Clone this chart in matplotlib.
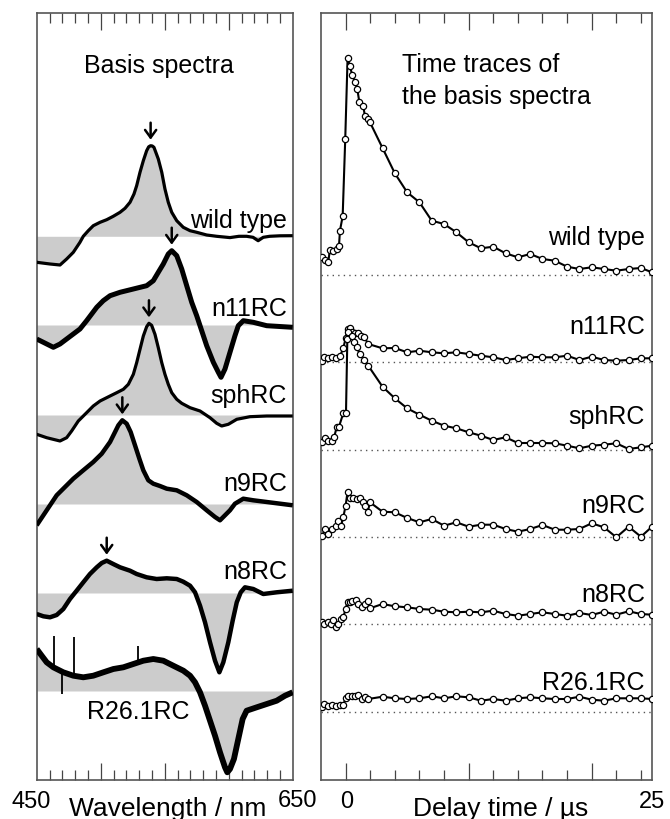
import numpy as np
import matplotlib
matplotlib.use('Agg')
import matplotlib.pyplot as plt

plt.rcParams['font.family'] = ['Liberation Sans', 'DejaVu Sans']

names = ['wild type', 'n11RC', 'sphRC', 'n9RC', 'n8RC', 'R26.1RC']

# --- basis spectra: wavelength (nm) and amplitude (arb. units, 0 = zero line)
wl_wt = [450, 460.4, 468.2, 473.4, 478.6, 483.8, 486.4, 490.3, 494.2, 499.5, 504.7, 509.8,
         515.1, 519, 522.9, 526, 528.1, 530.7, 533.3, 535.9, 537.5, 539, 540.3, 541.6, 545,
         547.7, 550.2, 552.8, 555.5, 559.4, 564.5, 569.8, 575, 582.8, 590.6, 601, 608, 614,
         619, 623, 627, 632, 640, 650]
sp_wt = [-26, -27.7, -28.7, -22.7, -16, -6, 0, 5.6, 10.6, 14, 16.6, 20,
         24, 28, 34, 42.3, 50.6, 64, 75.6, 85.6, 89.5, 90.6, 90.3, 89, 77.3,
         64, 47.3, 34, 24, 15.6, 9, 5.6, 4, 1.3, 0, -1.3, 0, 0,
         -1, -4.4, -1, 0, 0.5, 0.6]

wl_n11 = [450, 455.2, 463, 468.2, 473.4, 478.6, 483.8, 489, 496.9, 502, 507.3, 515.1,
          525.5, 535.9, 541.1, 545, 548.9, 552.8, 555.5, 559.4, 563.3, 567.2, 571.1, 575,
          578.9, 582.8, 588, 591.9, 594, 597.1, 601, 604.9, 607.5, 611.4, 619.2, 629.7,
          650]
sp_n11 = [-14, -17.3, -22.3, -19, -14, -9, -4, 4.3, 17.7, 24.3, 29.3, 32.7,
          36, 39.3, 44.3, 52.7, 61, 71, 74.3, 69.3, 56, 39.3, 22.7, 9.3,
          -5.7, -20.7, -37.3, -47.3, -52.3, -44, -27.3, -10.7, -0.7, 4.3, 2.7, -0.7,
          -2.3]

wl_sph = [450, 457.8, 468.2, 473.4, 477.3, 482.5, 489, 494.2, 499.5, 507.3, 512.5, 517.7,
          521.6, 525.5, 528.1, 530.7, 533.3, 535.9, 537.7, 539.8, 542.4, 545, 547.7, 550.2,
          552.8, 555.5, 559.4, 563.3, 569.8, 577.6, 585.4, 590.6, 594.5, 599.7, 606.3,
          616.6, 629.7, 650]
sp_sph = [-19.3, -22.7, -26, -22.7, -16, -6, 2.3, 9, 14, 19, 22.3, 25.7,
          30.7, 40.7, 52.3, 65.7, 79, 88.3, 91.7, 89.7, 80.7, 67.3, 52.3, 40.7,
          30.7, 22.3, 15.7, 11.7, 7.3, 4, -2.7, -8.3, -11, -9.3, -4.3,
          -1.7, -1, -1]

wl_n9 = [450, 452.6, 455.2, 460.4, 465.6, 472.1, 478.6, 486.4, 494.2, 500.8, 507.3, 511.2,
         513.8, 516.9, 520.3, 523.4, 526.8, 530.2, 533.3, 537.2, 541.1, 546.3, 551.6, 559.4,
         567.2, 575, 582.8, 589.3, 593.2, 597.1, 601, 604.9, 611.4, 619.2, 629.7, 650]
sp_n9 = [-21.3, -16.3, -11.3, -1.3, 8.7, 17, 25.3, 33.7, 42, 50.3, 62, 72,
         78.7, 83.7, 80.3, 72, 58.7, 45.3, 33.7, 23.7, 20.3, 18, 15.3, 13.7,
         8.7, 2, -6.3, -13, -16.3, -11.3, -6.3, 0.3, 5.3, 3.7, 2, -1.3]

wl_n8 = [450, 455.2, 460.4, 465.6, 470.8, 476, 481.2, 486.4, 491.6, 496.9, 500.8, 504.7,
         509.8, 515.1, 522.9, 528.1, 535.9, 543.7, 551.6, 559.4, 564.5, 569.8, 573.7, 577.6,
         581.5, 585.4, 589.3, 592.7, 595.8, 599.7, 603.1, 606.3, 609.4, 612.7, 619.2, 627,
         637.5, 650]
sp_n8 = [-21, -23.3, -24.3, -22, -16, -6, 2.3, 10.7, 19, 25.7, 30, 32.3,
         29, 25.7, 22.3, 19, 15.7, 14, 14.7, 14, 11.3, 7.3, 0.7, -12.7,
         -29.3, -49.3, -67.7, -79.3, -69.3, -49.3, -27.7, -9.3, 0.7, 5.7, 4, -1,
         0.7, 2.3]

wl_r26 = [450, 453.9, 457.8, 463, 470.8, 478.6, 486.4, 494.2, 502.1, 509.9, 517.7, 525.5,
          533.3, 541.1, 548.9, 556.7, 564.6, 569.8, 573.7, 577.6, 581.5, 585.4, 589.3, 593.2,
          597.1, 598.9, 601, 604.1, 607.5, 610.9, 614, 621.9, 629.7, 637.5, 644, 650]
sp_r26 = [42, 35.3, 28.7, 23.7, 18.7, 15.3, 13.7, 15.3, 18.7, 22, 23.7, 27,
          30.3, 32, 30.3, 25.3, 20.3, 15.3, 8.7, -1.3, -14.7, -29.7, -44.7, -61.3,
          -76.3, -81.3, -78, -68, -48, -28, -19.7, -16.3, -13, -9.7, -4.7, -1.3]
# single-point noise spikes on the R26.1RC spectrum
spike_wl = [463.5, 469.5, 479.4, 529.4]
spike_tip = [55, -3, 53.7, 45]

arrow_wl = [539, 555.5, 537.7, 516.9, 504.7]

# --- time traces: delay time (us) and amplitude (arb. units)
t_late = [3, 4, 5, 6, 7, 8, 9, 10, 11, 12, 13, 14, 15, 16, 17, 18, 19, 20, 21, 22, 23, 24, 24.9]

t_wt = [-1.95, -1.68, -1.41, -1.28, -1.0, -0.73, -0.54, -0.46, -0.24, -0.03, 0.16, 0.35,
        0.54, 0.76, 0.95, 1.11, 1.44, 1.57, 1.79, 1.98]
tr_wt = [17.7, 15.3, 12.7, 25.3, 24.3, 26, 28.7, 44.3, 58.7, 136, 217, 208.7,
         200, 193.3, 186, 173.3, 168.7, 158.7, 156, 152.7,
         127, 101.7, 82.7, 72.7, 54.3, 51, 42.7, 32.7, 26.7, 28.3, 21.7, 17.7,
         21, 16, 14.3, 8.3, 6, 7.7, 6, 4.3, 6, 7, 2.7]

t_n11 = [-1.95, -1.73, -1.41, -1.14, -0.81, -0.46, -0.19, 0.0, 0.16, 0.35, 0.54, 0.76,
         0.98, 1.25, 1.52, 1.84]
tr_n11 = [1, 4.4, 3.4, 4.4, 3.4, 5.4, 13.4, 23.4, 32.7, 33.4, 29.4, 28.4,
          28.4, 26, 24.4, 17.7,
          13.4, 13.7, 9.4, 11, 9.4, 8.4, 9.4, 7.7, 6, 4.4, 1.7, 3.4,
          5, 4.4, 4.4, 6, 1.7, 5, 1.7, 1, 1.7, 3.4, 3.4]

t_sph = [-1.9, -1.68, -1.41, -1.14, -0.92, -0.73, -0.54, -0.19, 0.03, 0.14, 0.22, 0.49,
         0.7, 0.89, 1.17, 1.52, 1.84]
tr_sph = [7.4, 11.4, 9, 9, 13, 22.4, 23, 36.4, 36.4, 110.7, 117.4, 114,
          107.4, 102.4, 95.7, 89.7, 84,
          63, 51.4, 41.4, 35, 29, 24, 21.4, 17.4, 14, 9.7, 12.4, 6.7,
          6.7, 6.7, 6.4, 4, 1.4, 4, 5, 6.4, 0.7, 2.4, 4]

t_n9 = [-1.9, -1.68, -1.41, -1.14, -0.81, -0.6, -0.38, -0.19, 0.0, 0.16, 0.35, 0.62,
        0.89, 1.17, 1.38, 1.57, 1.79, 1.98]
tr_n9 = [1.6, 8.3, 3.3, 8.3, 11.6, 16.6, 11, 20, 31.6, 45.6, 39.3, 39.3,
         38.3, 39, 35, 31, 25, 35,
         25.6, 25, 19.3, 15, 18.3, 11.6, 15, 10.6, 12.6, 12.6, 8.3, 5.6,
         8.3, 12.3, 7.6, 7.6, 8.3, 14, 10, 0, 10.6, 0.6, 10.6]

t_n8 = [-1.95, -1.73, -1.46, -1.19, -1.0, -0.81, -0.6, -0.38, -0.19, 0.0, 0.16, 0.35,
        0.54, 0.81, 1.03, 1.3, 1.57, 1.79, 1.98]
tr_n8 = [1.7, 0, 2.3, 0, 4, -3.3, 0, 5, 6.7, 15, 22.3, 22,
         23.3, 24.3, 20, 16.7, 20, 22.7, 15.7,
         20, 17.7, 16.7, 15, 14.3, 12.3, 11.7, 12.3, 11.7, 13.3, 10, 8.3,
         10, 11.7, 10, 8.3, 11, 9, 12.3, 9.3, 12.7, 10, 9.3]

t_r26 = [-1.95, -1.73, -1.46, -1.14, -0.81, -0.46, -0.19, 0.0, 0.22, 0.49, 0.76, 1.03,
         1.3, 1.57, 1.84]
tr_r26 = [5, 7.7, 6, 6.7, 6, 6.7, 6.7, 13.4, 16, 15.4, 16, 16.7,
          12.7, 14.4, 12.7,
          15, 13.4, 12.7, 13.4, 15.4, 13.4, 15.4, 14.4, 11, 12.7, 11, 13.4,
          14.4, 13.4, 12.7, 12.7, 15, 12, 11, 13.4, 13.4, 13.4, 12.7]

spectra = [(wl_wt, sp_wt), (wl_n11, sp_n11), (wl_sph, sp_sph),
           (wl_n9, sp_n9), (wl_n8, sp_n8), (wl_r26, sp_r26)]
traces = [(t_wt, tr_wt), (t_n11, tr_n11), (t_sph, tr_sph),
          (t_n9, tr_n9), (t_n8, tr_n8), (t_r26, tr_r26)]

# layout: vertical stacking offsets and label positions
spec_off = [543.7, 455, 365, 276, 187, 89]
trace_off = [505, 418.3, 330.3, 242.7, 156, 68.3]
spec_lw = [2.3, 3.6, 2.3, 3.2, 3.2, 4.2]
spec_lab_y = [553, 465, 377.7, 290.3, 201.7, 62]
trace_lab_y = [536, 446.7, 357, 268.3, 179.3, 91]

W, H = 670, 820
fig = plt.figure(figsize=(W / 100, H / 100), dpi=100)
ax1 = fig.add_axes([36.7 / W, 1 - 781 / H, 256 / W, 767 / H])
ax2 = fig.add_axes([321 / W, 1 - 781 / H, 331 / W, 767 / H])

fs_lab = 18

for i, ((wl, sp), off) in enumerate(zip(spectra, spec_off)):
    wl = np.asarray(wl)
    y = np.asarray(sp) + off
    ax1.fill_between(wl, off, y, color='#cccccc', lw=0, zorder=1)
    ax1.plot(wl, y, color='k', lw=spec_lw[i], solid_joinstyle='round',
             solid_capstyle='butt', zorder=3)
    if i < len(arrow_wl):
        lam = arrow_wl[i]
        ypk = np.interp(lam, wl, y)
        ax1.annotate('', xy=(lam, ypk + 6), xytext=(lam, ypk + 23),
                     arrowprops=dict(arrowstyle='->,head_length=0.55,head_width=0.4',
                                     lw=1.8, color='k', shrinkA=0, shrinkB=0))
    if names[i] == 'R26.1RC':
        base = np.interp(spike_wl, wl, y)
        ax1.vlines(spike_wl, base, np.asarray(spike_tip) + off, color='k', lw=1.3, zorder=3)
        ax1.text(489.3, spec_lab_y[i], names[i], ha='left', va='baseline', fontsize=fs_lab)
    else:
        ax1.text(645.5, spec_lab_y[i], names[i], ha='right', va='baseline', fontsize=fs_lab)

ax1.text(545.5, 708, 'Basis spectra', ha='center', va='baseline', fontsize=fs_lab)

for i, ((t, tr), off) in enumerate(zip(traces, trace_off)):
    tt = list(t) + t_late
    y = np.asarray(tr) + off
    ax2.plot([-2.0, 24.9], [off, off], color='#555555', lw=1.0, ls=(0, (1, 3)), zorder=1)
    ax2.plot(tt, y, color='k', lw=1.5, marker='o', ms=4.5, mfc='white', mec='k',
             mew=0.9, zorder=3)
    ax2.text(24.33, trace_lab_y[i], names[i], ha='right', va='baseline', fontsize=fs_lab)

ax2.text(4.6, 709.3, 'Time traces of', ha='left', va='baseline', fontsize=fs_lab)
ax2.text(4.6, 677, 'the basis spectra', ha='left', va='baseline', fontsize=fs_lab)

ax1.set_xlim(450, 650)
ax2.set_xlim(-2.0, 24.9)
for ax in (ax1, ax2):
    ax.set_ylim(0, 767)
    ax.set_yticks([])
    for s in ax.spines.values():
        s.set_color('#555555')
        s.set_linewidth(1.2)
    ax.tick_params(axis='x', which='both', direction='in', top=True, bottom=True,
                   labelbottom=False, colors='#444444')
    ax.tick_params(axis='x', which='major', length=12, width=0.9)
    ax.tick_params(axis='x', which='minor', length=7, width=0.9)

ax1.set_xticks([500, 550, 600])
ax1.set_xticks(np.arange(460, 650, 10), minor=True)
ax2.set_xticks([0, 10, 20])
ax2.set_xticks(np.arange(2, 25, 2), minor=True)

fs_tick = 17
fs_axis = 19
fig.text(30.8 / W, 1 - 808 / H, '450', ha='center', va='baseline', fontsize=fs_tick)
fig.text(297.5 / W, 1 - 807 / H, '650', ha='center', va='baseline', fontsize=fs_tick)
fig.text(167.5 / W, 1 - 816 / H, 'Wavelength / nm', ha='center', va='baseline', fontsize=fs_axis)
fig.text(346.7 / W, 1 - 808 / H, '0', ha='center', va='baseline', fontsize=fs_tick)
fig.text(652 / W, 1 - 808 / H, '25', ha='center', va='baseline', fontsize=fs_tick)
fig.text(501 / W, 1 - 816 / H, 'Delay time / µs', ha='center', va='baseline', fontsize=fs_axis)

fig.savefig('out.png', dpi=100)
